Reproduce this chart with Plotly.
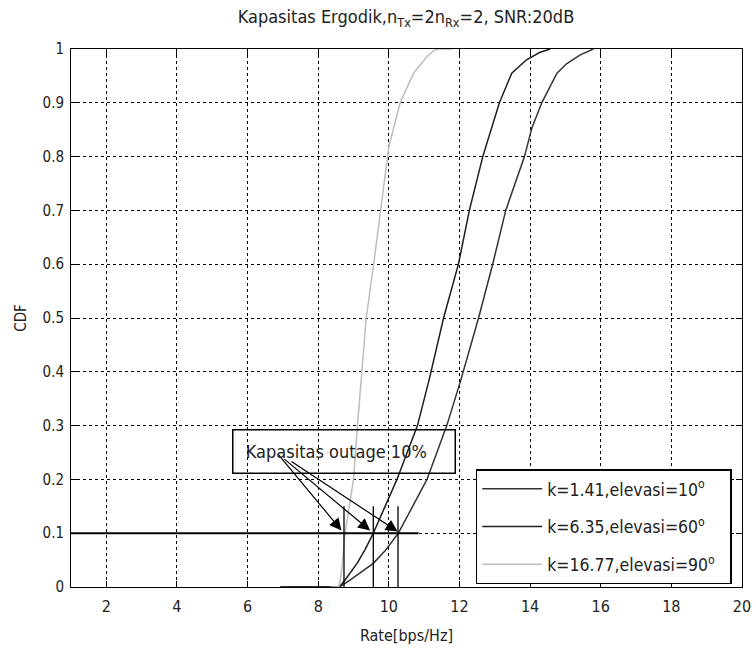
import plotly.graph_objects as go

# ---- data ----
x_k141 = [6.93, 8.60, 8.90, 9.56, 9.90, 10.27, 11.08, 11.64, 12.04, 12.54, 12.94, 13.31, 13.84, 14.05, 14.33, 14.76, 15.04, 15.42, 15.79]
y_k141 = [0.0, 0.0, 0.013, 0.044, 0.068, 0.10, 0.20, 0.30, 0.385, 0.50, 0.60, 0.70, 0.80, 0.853, 0.90, 0.955, 0.973, 0.989, 1.0]

x_k635 = [6.93, 8.60, 8.76, 9.10, 9.33, 9.56, 10.23, 10.81, 11.14, 11.55, 11.97, 12.28, 12.66, 13.13, 13.48, 13.90, 14.28, 14.57]
y_k635 = [0.0, 0.0, 0.013, 0.044, 0.07, 0.10, 0.20, 0.30, 0.385, 0.50, 0.60, 0.70, 0.80, 0.90, 0.955, 0.98, 0.994, 1.0]

x_k1677 = [8.35, 8.58, 8.62, 8.68, 8.76, 9.00, 9.11, 9.21, 9.36, 9.57, 9.77, 10.00, 10.32, 10.70, 11.08, 11.25, 11.40, 11.80]
y_k1677 = [0.0, 0.0, 0.01, 0.04, 0.10, 0.20, 0.30, 0.385, 0.50, 0.60, 0.70, 0.818, 0.90, 0.955, 0.986, 0.996, 1.0, 1.0]

series_names = ["k=1.41,elevasi=10<sup>o</sup>&nbsp;&nbsp;",
                "k=6.35,elevasi=60<sup>o</sup>&nbsp;&nbsp;",
                "k=16.77,elevasi=90<sup>o</sup>&nbsp;&nbsp;"]
series_colors = ["#333333", "#1e1e1e", "#bdbdbd"]

outage_level = 0.1
outage_line_x = [1.0, 10.84]
outage_rates = [8.73, 9.56, 10.26]
marker_y = [-0.01, 0.15]
arrow_heads_x = [8.66, 9.47, 10.25]
arrow_heads_y = [0.105, 0.105, 0.103]
arrow_tails_x = [6.85, 7.0, 7.2]
arrow_tails_y = [0.248, 0.24, 0.235]

x_ticks = [2, 4, 6, 8, 10, 12, 14, 16, 18, 20]
y_ticks = [0, 0.1, 0.2, 0.3, 0.4, 0.5, 0.6, 0.7, 0.8, 0.9, 1]
y_tick_labels = ["0", "0.1", "0.2", "0.3", "0.4", "0.5", "0.6", "0.7", "0.8", "0.9", "1"]

FONT = "DejaVu Sans Condensed, DejaVu Sans, sans-serif"

fig = go.Figure()

for xs, ys, nm, col, grp in zip([x_k141, x_k635, x_k1677], [y_k141, y_k635, y_k1677],
                                series_names, series_colors, ["a", "b", "c"]):
    fig.add_trace(go.Scatter(x=xs, y=ys, mode="lines", name=nm, legendgroup=grp,
                             line=dict(color=col, width=1.5)))

# outage horizontal line
fig.add_trace(go.Scatter(x=outage_line_x, y=[outage_level, outage_level], mode="lines",
                         line=dict(color="black", width=2), showlegend=False, hoverinfo="skip"))
# vertical outage markers
for xr in outage_rates:
    fig.add_trace(go.Scatter(x=[xr, xr], y=marker_y, mode="lines",
                             line=dict(color="black", width=1.3), showlegend=False,
                             hoverinfo="skip"))

# arrows
for hx, hy, tx, ty in zip(arrow_heads_x, arrow_heads_y, arrow_tails_x, arrow_tails_y):
    fig.add_annotation(x=hx, y=hy, ax=tx, ay=ty, xref="x", yref="y", axref="x", ayref="y",
                       text="", showarrow=True, arrowhead=2, arrowsize=2.0, arrowwidth=1.2,
                       arrowcolor="black")

# text box
fig.add_annotation(x=5.56, y=0.251, xref="x", yref="y", xanchor="left", yanchor="middle",
                   text="&nbsp;&nbsp;Kapasitas outage 10%", showarrow=False, align="left",
                   width=217, height=38, borderpad=2, bordercolor="black", borderwidth=1.5,
                   bgcolor="rgba(255,255,255,0)", font=dict(family=FONT, size=18, color="#222"))

fig.update_layout(
    width=756, height=650,
    margin=dict(l=71, r=14, t=49, b=63),
    paper_bgcolor="white", plot_bgcolor="white",
    font=dict(family=FONT, size=15, color="#222"),
    title=dict(text="Kapasitas Ergodik,n<sub>Tx</sub>=2n<sub>Rx</sub>=2, SNR:20dB",
               x=0.537, xanchor="center", y=0.974, yanchor="middle",
               font=dict(family=FONT, size=18, color="#222")),
    legend=dict(x=0.9847, xanchor="right", y=0.005, yanchor="bottom",
                bgcolor="white", bordercolor="black", borderwidth=1.5,
                font=dict(family=FONT, size=17.5, color="#222"),
                tracegroupgap=12, itemwidth=60),
    showlegend=True,
)
fig.update_xaxes(range=[1, 20], tickvals=x_ticks, ticks="inside", ticklen=6, tickcolor="black",
                 showline=True, linecolor="black", linewidth=1, mirror="allticks",
                 showgrid=True, gridcolor="black", gridwidth=1, griddash="3px,3px",
                 zeroline=False, tickfont=dict(size=16, color="#222"), ticklabelstandoff=5,
                 automargin=False,
                 title=dict(text="Rate[bps/Hz]", standoff=14, font=dict(size=16, color="#222")))
fig.update_yaxes(range=[0, 1], tickvals=y_ticks, ticktext=y_tick_labels, ticks="inside", ticklen=6,
                 tickcolor="black", showline=True, linecolor="black", linewidth=1, mirror="allticks",
                 showgrid=True, gridcolor="black", gridwidth=1, griddash="3px,3px",
                 zeroline=False, tickfont=dict(size=15, color="#222"), ticklabelstandoff=3,
                 automargin=False,
                 title=dict(text="CDF", standoff=12, font=dict(size=15, color="#222")))

fig.write_html("out.html")
